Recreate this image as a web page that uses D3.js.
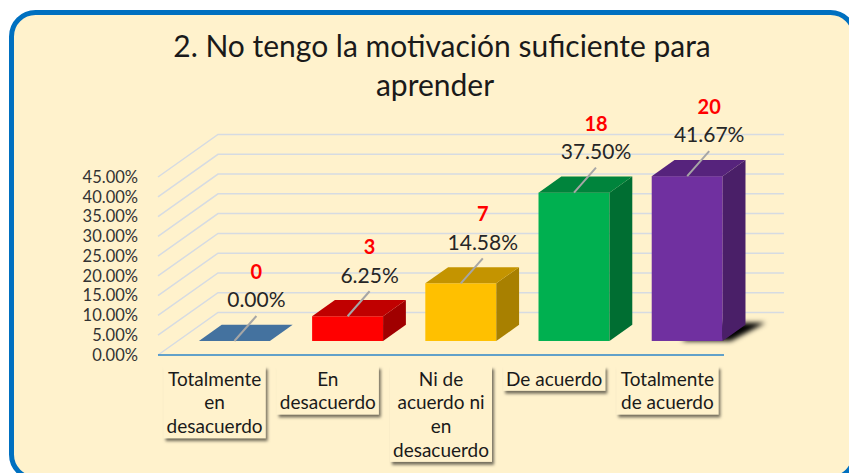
<!DOCTYPE html>
<html>
<head>
<meta charset="utf-8">
<script src="https://cdn.jsdelivr.net/npm/d3@7"></script>
<style>
  body { margin: 0; background: #ffffff; }
  svg { display: block; font-family: Lato, "Open Sans", sans-serif; }
</style>
</head>
<body>
<svg width="849" height="473"></svg>
<script>
// data
var categories = ["Totalmente en desacuerdo", "En desacuerdo", "Ni de acuerdo ni en desacuerdo", "De acuerdo", "Totalmente de acuerdo"]
var category_lines = [["Totalmente", "en", "desacuerdo"], ["En", "desacuerdo"], ["Ni de", "acuerdo ni", "en", "desacuerdo"], ["De acuerdo"], ["Totalmente", "de acuerdo"]]
var counts = [0, 3, 7, 18, 20]
var percents = [0, 0.0625, 0.1458, 0.375, 0.4167]
var y_ticks = [0, 0.05, 0.10, 0.15, 0.20, 0.25, 0.30, 0.35, 0.40, 0.45]
var title_lines = ["2. No tengo la motivación suficiente para", "aprender"]

// front, top, side shades for each bar
var bar_colors = [
    ["#4674A2", "#44729F", "#3A6590"],
    ["#FF0000", "#C00000", "#A00000"],
    ["#FFC000", "#C49400", "#A88000"],
    ["#00B050", "#00843C", "#006E32"],
    ["#7030A0", "#56237C", "#4A1F68"]
]

var svg = d3.select("svg")
var defs = svg.append("defs")

defs.append("filter").attr("id", "boxshadow")
    .attr("x", "-20%").attr("y", "-20%").attr("width", "150%").attr("height", "150%")
    .append("feDropShadow")
    .attr("dx", 2).attr("dy", 3).attr("stdDeviation", 1.8)
    .attr("flood-color", "#000").attr("flood-opacity", 0.55)

defs.append("filter").attr("id", "blur")
    .attr("x", "-30%").attr("y", "-60%").attr("width", "160%").attr("height", "220%")
    .append("feGaussianBlur").attr("stdDeviation", 2.5)

// frame
svg.append("rect")
    .attr("x", 11.5).attr("y", 12.5)
    .attr("width", 843).attr("height", 466)
    .attr("rx", 24).attr("ry", 24)
    .attr("fill", "#FFF2CC")
    .attr("stroke", "#0070C0")
    .attr("stroke-width", 5)

// title
svg.append("text")
    .attr("text-anchor", "middle")
    .attr("font-size", "30px")
    .attr("fill", "#1a1a1a")
    .selectAll("tspan")
    .data(title_lines)
    .enter().append("tspan")
    .attr("x", function (d, i) { return i == 0 ? 442 : 435 })
    .attr("y", function (d, i) { return 57 + i * 39 })
    .text(function (d) { return d })

// scales
var depth = { dx: 60, dy: -42.5 }
var x_scale = d3.scaleBand()
    .domain(categories)
    .range([158, 724])
    .paddingInner(0.373)
    .paddingOuter(0.1865)
var y_scale = d3.scaleLinear()
    .domain([0, 0.45])
    .range([355, 177])

var x_left = x_scale.range()[0], x_right = 784

// walls: gridlines
var grid = svg.append("g").attr("stroke", "#D6DBE2").attr("stroke-width", 1.5).attr("fill", "none")
grid.selectAll("polyline")
    .data(y_ticks)
    .enter().append("polyline")
    .attr("points", function (d) {
        var y = y_scale(d)
        return [[x_left, y], [x_left + depth.dx, y + depth.dy], [x_right, y + depth.dy]].join(" ")
    })

// floor front edge
svg.append("line")
    .attr("x1", x_left).attr("x2", x_scale.range()[1])
    .attr("y1", y_scale(0)).attr("y2", y_scale(0))
    .attr("stroke", "#2E86C8").attr("stroke-width", 1.5)

// y axis labels
svg.append("g")
    .selectAll("text")
    .data(y_ticks)
    .enter().append("text")
    .attr("x", 138)
    .attr("y", function (d) { return y_scale(d) })
    .attr("dy", "0.35em")
    .attr("text-anchor", "end")
    .attr("font-size", "16.5px")
    .attr("fill", "#333")
    .text(function (d) { return d3.format(".2%")(d) })

// bars
var front_f = 0.33, back_f = 0.71
var bw = x_scale.bandwidth()
var max_i = d3.maxIndex(percents)

var bars = svg.append("g")
    .selectAll("g")
    .data(categories)
    .enter().append("g")

bars.each(function (c, i) {
    var g = d3.select(this)
    var x0 = x_scale(c) + front_f * depth.dx
    var x1 = x0 + bw
    var yb = y_scale(0) + front_f * depth.dy
    var yt = y_scale(percents[i]) + front_f * depth.dy
    var ddx = (back_f - front_f) * depth.dx
    var ddy = (back_f - front_f) * depth.dy
    var col = bar_colors[i]

    if (i == max_i) {
        g.append("polygon")
            .attr("points", [[x0 + 30, yb], [x1 + 8, yb], [x1 + ddx + 20, yb + ddy - 2], [x0 + ddx + 30, yb + ddy - 2]].join(" "))
            .attr("fill", "#000")
            .attr("filter", "url(#blur)")
    }

    if (percents[i] > 0) {
        g.append("rect")
            .attr("x", x0).attr("y", yt)
            .attr("width", bw).attr("height", yb - yt)
            .attr("fill", col[0])
        g.append("polygon")
            .attr("points", [[x1, yt], [x1 + ddx, yt + ddy], [x1 + ddx, yb + ddy], [x1, yb]].join(" "))
            .attr("fill", col[2])
    }
    g.append("polygon")
        .attr("points", [[x0, yt], [x1, yt], [x1 + ddx, yt + ddy], [x0 + ddx, yt + ddy]].join(" "))
        .attr("fill", col[1])

    // leader + labels
    var lx = x0 + bw / 2
    g.append("line")
        .attr("x1", lx).attr("y1", yt)
        .attr("x2", lx + 22).attr("y2", yt - 25)
        .attr("stroke", "#A6A6A6").attr("stroke-width", 2)
    g.append("text")
        .attr("x", lx + 22).attr("y", yt - 41)
        .attr("dy", "0.35em")
        .attr("text-anchor", "middle")
        .attr("font-size", "21px")
        .attr("fill", "#262626")
        .text(d3.format(".2%")(percents[i]))
    g.append("text")
        .attr("x", lx + 22).attr("y", yt - 69)
        .attr("dy", "0.35em")
        .attr("text-anchor", "middle")
        .attr("font-size", "20px")
        .attr("font-weight", "bold")
        .attr("fill", "#FF0000")
        .text(counts[i])
})

// category label boxes
var line_h = 23.7
var cats = svg.append("g")
    .selectAll("g")
    .data(categories)
    .enter().append("g")
    .attr("transform", function (d) {
        return "translate(" + (x_scale(d) + bw / 2) + ",366)"
    })

cats.append("rect")
    .attr("x", -51).attr("y", 0)
    .attr("width", 102)
    .attr("height", function (d, i) { return category_lines[i].length * line_h + 1 })
    .attr("fill", "#FFF2CC")
    .attr("filter", "url(#boxshadow)")

cats.append("text")
    .attr("text-anchor", "middle")
    .attr("font-size", "19px")
    .attr("fill", "#1a1a1a")
    .each(function (d, i) {
        d3.select(this).selectAll("tspan")
            .data(category_lines[i])
            .enter().append("tspan")
            .attr("x", 0)
            .attr("y", function (t, j) { return 13 + j * line_h })
            .attr("dy", "0.35em")
            .text(function (t) { return t })
    })
</script>
</body>
</html>
